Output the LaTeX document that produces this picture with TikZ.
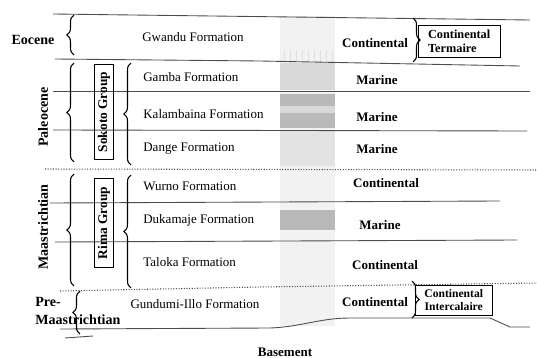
\documentclass[tikz,border=0pt]{standalone}
\usepackage{fontspec}
\setmainfont{Liberation Serif}
\usetikzlibrary{decorations.pathreplacing}

\tikzset{
  fmtext/.style={font=\fontsize{7.4}{8.5}\selectfont, inner sep=0pt},
  envtext/.style={font=\fontsize{7.4}{8.5}\selectfont\bfseries, inner sep=0pt},
  agetext/.style={font=\fontsize{8}{10}\selectfont\bfseries, inner sep=0pt},
  grpbox/.style={draw, rotate=90, font=\fontsize{7.6}{8.5}\selectfont\bfseries, inner sep=1pt, minimum height=19*0.567pt},
  sidebox/.style={draw, font=\fontsize{7}{7.6}\selectfont\bfseries, inner sep=1pt, align=left},
  brc/.style={decorate, decoration={brace, amplitude=4pt}, line width=0.6pt},
  bnd/.style={line width=0.5pt, black!70},
  dotbnd/.style={line width=0.6pt, black!70, dash pattern=on 0.6pt off 0.9pt}
}

\begin{document}
\begin{tikzpicture}[x=0.02cm, y=-0.02cm]
  %%%%% START %%%%%
  \def\colL{280}
  \def\colR{335}
  \def\fx{143}
  \def\envx{377}
  \useasboundingbox (0,0) rectangle (537,358);

  % shaded column
  \fill[gray!10] (\colL,16) rectangle (\colR,326);
  \foreach \xx in {284,290,...,332}
    \draw[gray!25, line width=0.3pt] (\xx,50) -- (\xx,62);
  \fill[gray!30] (\colL,63) rectangle (\colR,90);
  \fill[gray!55] (\colL,94) rectangle (\colR,106);
  \fill[gray!30] (\colL,106) rectangle (\colR,113);
  \fill[gray!55] (\colL,113) rectangle (\colR,128);
  \fill[gray!22] (\colL,131) rectangle (\colR,166);
  \fill[gray!55] (\colL,210) rectangle (\colR,230);

  % boundaries
  \draw[bnd] (53,14) -- (530,20);
  \draw[bnd] (55,59) -- (260,61) -- (520,66);
  \draw[bnd] (53,91) -- (530,91);
  \draw[bnd] (53,130) -- (527,131);
  \draw[dotbnd] (45,169) -- (537,170);
  \draw[bnd] (50,203) -- (500,201);
  \draw[bnd] (55,242) -- (517,240);
  \draw[dotbnd] (60,291) -- (260,287) -- (537,283);
  \draw[bnd] (60,329) -- (270,328) .. controls (300,327) and (320,318) .. (350,318) -- (490,318) -- (510,327) -- (530,327);
  \draw[bnd] (65,338) -- (93,336);

  % ages
  \node[agetext] (eocene) at (33,40) {Eocene};
  \node[agetext, rotate=90] (paleocene) at (43,117) {Paleocene};
  \node[agetext, rotate=90] (maastr) at (43,227) {Maastrichtian};
  \node[agetext, anchor=west, align=left] (premaastr) at (35,311) {Pre-\\Maastrichtian};

  \draw[brc] (74,55) -- (74,15);
  \draw[brc] (74,162) -- (74,63);
  \draw[brc] (74,286) -- (74,174);
  \draw[brc] (80,334) -- (80,291);

  % groups
  \node[grpbox, minimum width=95*0.567pt] (sokoto) at (104,112) {Sokoto Group};
  \node[grpbox, minimum width=90*0.567pt] (rima) at (104,223) {Rima Group};
  \draw[brc] (131,165) -- (131,63);
  \draw[brc] (131,288) -- (131,175);

  % formations
  \node[fmtext] (gwandu) at (193,37) {Gwandu Formation};
  \node[fmtext, anchor=west] (gamba) at (\fx,77) {Gamba Formation};
  \node[fmtext, anchor=west] (kalambaina) at (\fx,114) {Kalambaina Formation};
  \node[fmtext, anchor=west] (dange) at (\fx,149) {Dange Formation};
  \node[fmtext, anchor=west] (wurno) at (\fx,186) {Wurno Formation};
  \node[fmtext, anchor=west] (dukamaje) at (\fx,220) {Dukamaje Formation};
  \node[fmtext, anchor=west] (taloka) at (\fx,262) {Taloka Formation};
  \node[fmtext] (gundumi) at (195,304) {Gundumi-Illo Formation};

  % environments
  \node[envtext] (envgwandu) at (375,43) {Continental};
  \node[envtext] (envgamba) at (\envx,80) {Marine};
  \node[envtext] (envkal) at (\envx,117) {Marine};
  \node[envtext] (envdange) at (\envx,149) {Marine};
  \node[envtext] (envwurno) at (386,183) {Continental};
  \node[envtext] (envduk) at (380,225) {Marine};
  \node[envtext] (envtaloka) at (385,265) {Continental};
  \node[envtext] (envgund) at (375,302) {Continental};

  \draw[brc] (413,18) -- (413,62);
  \draw[brc] (412,281) -- (412,318);
  \node[sidebox, anchor=north west, minimum width=82*0.567pt, minimum height=32*0.567pt] (cterm) at (418,25) {Continental\\Termaire};
  \node[sidebox, anchor=north west, align=center, font=\fontsize{6.6}{7.2}\selectfont\bfseries, inner sep=1.5pt, minimum width=77*0.567pt, minimum height=30*0.567pt] (cinter) at (415,285) {Continental\\Intercalaire};

  \node[envtext] (basement) at (285,352) {Basement};
  %%%%% END %%%%%
\end{tikzpicture}
\end{document}
